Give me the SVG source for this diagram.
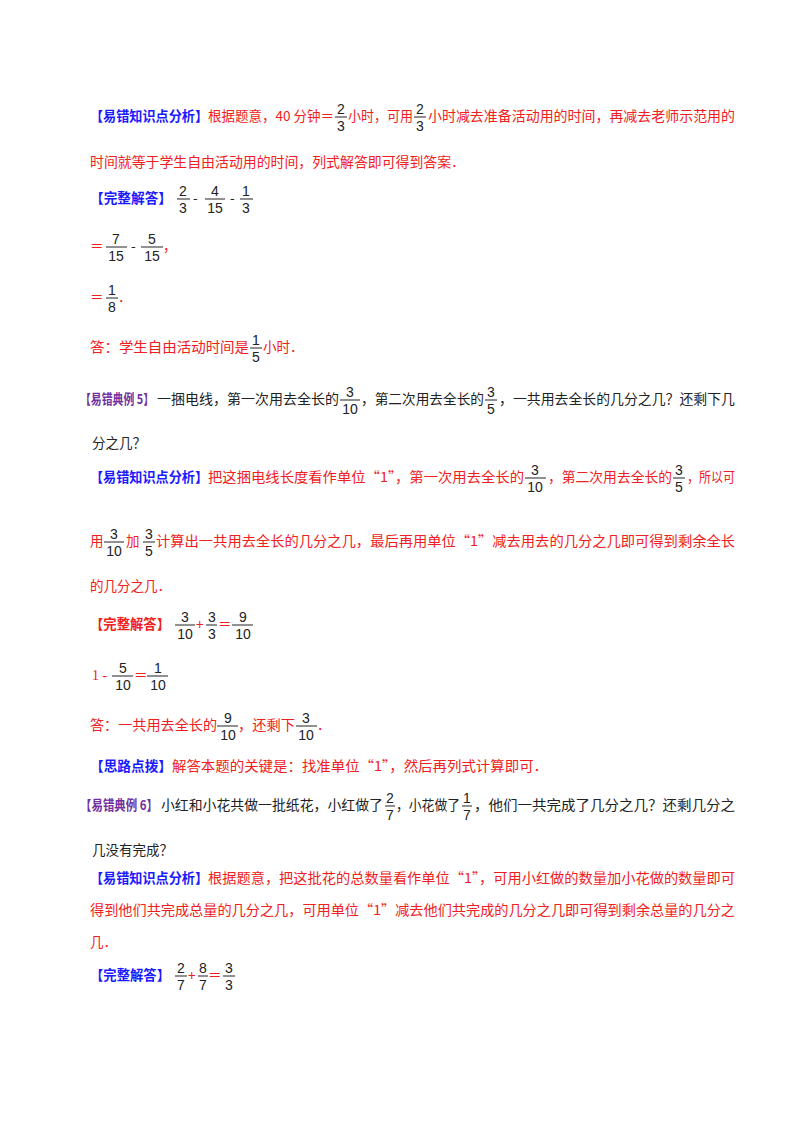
<svg xmlns="http://www.w3.org/2000/svg" width="800" height="1132" viewBox="0 0 800 1132">
<style>
text{font-family:"Noto Sans CJK SC","Liberation Serif",sans-serif;font-size:13.5px}
.r{fill:#f02020}.k{fill:#222}.b{fill:#1a1aff;font-weight:bold}.p{fill:#7030a0;font-weight:bold}.rb{fill:#f02020;font-weight:bold}
.n{font-family:"Liberation Sans",sans-serif;font-size:14px;text-anchor:middle;fill:#222}
.fl{stroke:#222;stroke-width:1}
</style>
<rect width="800" height="1132" fill="#fff"/>
<g id="p1">
<text class="b" x="90" y="121" textLength="118" lengthAdjust="spacingAndGlyphs">【易错知识点分析】</text>
<text class="r" x="208" y="121" textLength="126" lengthAdjust="spacingAndGlyphs">根据题意，40 分钟＝</text>
<text class="n" x="341" y="114">2</text><line class="fl" x1="335" y1="117" x2="347" y2="117"/><text class="n" x="341" y="131">3</text>
<text class="r" x="348" y="121" textLength="65" lengthAdjust="spacingAndGlyphs">小时，可用</text>
<text class="n" x="420" y="114">2</text><line class="fl" x1="414" y1="117" x2="426" y2="117"/><text class="n" x="420" y="131">3</text>
<text class="r" x="428" y="121" textLength="307" lengthAdjust="spacingAndGlyphs">小时减去准备活动用的时间，再减去老师示范用的</text>
<text class="r" x="90" y="167" textLength="375" lengthAdjust="spacingAndGlyphs">时间就等于学生自由活动用的时间，列式解答即可得到答案．</text>
</g>
<g id="a1">
<text class="b" x="90" y="203" textLength="82" lengthAdjust="spacingAndGlyphs">【完整解答】</text>
<text class="n" x="183" y="196">2</text><line class="fl" x1="177" y1="199" x2="190" y2="199"/><text class="n" x="183" y="213">3</text>
<text class="k" x="193" y="203">-</text>
<text class="n" x="215" y="196">4</text><line class="fl" x1="205" y1="199" x2="225" y2="199"/><text class="n" x="215" y="213">15</text>
<text class="k" x="230" y="203">-</text>
<text class="n" x="246" y="196">1</text><line class="fl" x1="240" y1="199" x2="253" y2="199"/><text class="n" x="246" y="213">3</text>
<text class="r" x="90" y="251">＝</text>
<text class="n" x="116" y="244">7</text><line class="fl" x1="106" y1="247" x2="127" y2="247"/><text class="n" x="116" y="261">15</text>
<text class="k" x="131" y="251">-</text>
<text class="n" x="152" y="244">5</text><line class="fl" x1="141" y1="247" x2="163" y2="247"/><text class="n" x="152" y="261">15</text>
<text class="r" x="163" y="251">，</text>
<text class="r" x="90" y="302">＝</text>
<text class="n" x="112" y="295">1</text><line class="fl" x1="106" y1="298" x2="118" y2="298"/><text class="n" x="112" y="312">8</text>
<text class="r" x="118" y="302">．</text>
<text class="r" x="90" y="352" textLength="159" lengthAdjust="spacingAndGlyphs">答：学生自由活动时间是</text>
<text class="n" x="256" y="345">1</text><line class="fl" x1="250" y1="348" x2="262" y2="348"/><text class="n" x="256" y="362">5</text>
<text class="r" x="263" y="352">小时．</text>
</g>
<g id="e5">
<text class="p" x="80" y="404" textLength="74" lengthAdjust="spacingAndGlyphs">【易错典例 5】</text>
<text class="k" x="157" y="404" textLength="182" lengthAdjust="spacingAndGlyphs">一捆电线，第一次用去全长的</text>
<text class="n" x="350" y="397">3</text><line class="fl" x1="340" y1="400" x2="360" y2="400"/><text class="n" x="350" y="414">10</text>
<text class="k" x="361" y="404" textLength="123" lengthAdjust="spacingAndGlyphs">，第二次用去全长的</text>
<text class="n" x="491" y="397">3</text><line class="fl" x1="485" y1="400" x2="497" y2="400"/><text class="n" x="491" y="414">5</text>
<text class="k" x="499" y="404" textLength="236" lengthAdjust="spacingAndGlyphs">，一共用去全长的几分之几？还剩下几</text>
<text class="k" x="92" y="448">分之几？</text>
<text class="b" x="90" y="482" textLength="118" lengthAdjust="spacingAndGlyphs">【易错知识点分析】</text>
<text class="r" x="208" y="482" textLength="316" lengthAdjust="spacingAndGlyphs">把这捆电线长度看作单位“1”，第一次用去全长的</text>
<text class="n" x="535" y="475">3</text><line class="fl" x1="525" y1="478" x2="546" y2="478"/><text class="n" x="535" y="492">10</text>
<text class="r" x="548" y="482" textLength="124" lengthAdjust="spacingAndGlyphs">，第二次用去全长的</text>
<text class="n" x="679" y="475">3</text><line class="fl" x1="673" y1="478" x2="685" y2="478"/><text class="n" x="679" y="492">5</text>
<text class="r" x="687" y="482" textLength="48" lengthAdjust="spacingAndGlyphs">，所以可</text>
<text class="r" x="90" y="546">用</text>
<text class="n" x="114" y="539">3</text><line class="fl" x1="104" y1="542" x2="124" y2="542"/><text class="n" x="114" y="556">10</text>
<text class="r" x="126" y="546">加</text>
<text class="n" x="149" y="539">3</text><line class="fl" x1="143" y1="542" x2="155" y2="542"/><text class="n" x="149" y="556">5</text>
<text class="r" x="156" y="546" textLength="579" lengthAdjust="spacingAndGlyphs">计算出一共用去全长的几分之几，最后再用单位“1”减去用去的几分之几即可得到剩余全长</text>
<text class="r" x="90" y="591">的几分之几．</text>
</g>
<g id="a5">
<text class="rb" x="90" y="629" textLength="80" lengthAdjust="spacingAndGlyphs">【完整解答】</text>
<text class="n" x="185" y="622">3</text><line class="fl" x1="175" y1="625" x2="195" y2="625"/><text class="n" x="185" y="639">10</text>
<text class="r" x="196" y="629">+</text>
<text class="n" x="212" y="622">3</text><line class="fl" x1="206" y1="625" x2="217" y2="625"/><text class="n" x="212" y="639">3</text>
<text class="r" x="218" y="629">＝</text>
<text class="n" x="243" y="622">9</text><line class="fl" x1="232" y1="625" x2="253" y2="625"/><text class="n" x="243" y="639">10</text>
<text class="r" x="92" y="680" style="font-family:'Liberation Serif',serif;font-size:14px">1 -</text>
<text class="n" x="123" y="673">5</text><line class="fl" x1="112" y1="676" x2="133" y2="676"/><text class="n" x="123" y="690">10</text>
<text class="r" x="134" y="680">＝</text>
<text class="n" x="158" y="673">1</text><line class="fl" x1="147" y1="676" x2="168" y2="676"/><text class="n" x="158" y="690">10</text>
<text class="r" x="90" y="730" textLength="127" lengthAdjust="spacingAndGlyphs">答：一共用去全长的</text>
<text class="n" x="228" y="723">9</text><line class="fl" x1="217" y1="726" x2="238" y2="726"/><text class="n" x="228" y="740">10</text>
<text class="r" x="238" y="730" textLength="57" lengthAdjust="spacingAndGlyphs">，还剩下</text>
<text class="n" x="306" y="723">3</text><line class="fl" x1="296" y1="726" x2="317" y2="726"/><text class="n" x="306" y="740">10</text>
<text class="r" x="317" y="730">．</text>
<text class="b" x="90" y="771" textLength="82" lengthAdjust="spacingAndGlyphs">【思路点拨】</text>
<text class="r" x="172" y="771" textLength="376" lengthAdjust="spacingAndGlyphs">解答本题的关键是：找准单位“1”，然后再列式计算即可．</text>
</g>
<g id="e6">
<text class="p" x="80" y="810" textLength="78" lengthAdjust="spacingAndGlyphs">【易错典例 6】</text>
<text class="k" x="161" y="810" textLength="222" lengthAdjust="spacingAndGlyphs">小红和小花共做一批纸花，小红做了</text>
<text class="n" x="390" y="803">2</text><line class="fl" x1="385" y1="806" x2="395" y2="806"/><text class="n" x="390" y="820">7</text>
<text class="k" x="396" y="810" textLength="64" lengthAdjust="spacingAndGlyphs">，小花做了</text>
<text class="n" x="467" y="803">1</text><line class="fl" x1="462" y1="806" x2="472" y2="806"/><text class="n" x="467" y="820">7</text>
<text class="k" x="474" y="810" textLength="261" lengthAdjust="spacingAndGlyphs">，他们一共完成了几分之几？还剩几分之</text>
<text class="k" x="92" y="855">几没有完成？</text>
<text class="b" x="90" y="883" textLength="118" lengthAdjust="spacingAndGlyphs">【易错知识点分析】</text>
<text class="r" x="208" y="883" textLength="527" lengthAdjust="spacingAndGlyphs">根据题意，把这批花的总数量看作单位“1”，可用小红做的数量加小花做的数量即可</text>
<text class="r" x="90" y="915" textLength="645" lengthAdjust="spacingAndGlyphs">得到他们共完成总量的几分之几，可用单位“1”减去他们共完成的几分之几即可得到剩余总量的几分之</text>
<text class="r" x="90" y="947">几．</text>
</g>
<g id="a6">
<text class="b" x="90" y="980" textLength="80" lengthAdjust="spacingAndGlyphs">【完整解答】</text>
<text class="n" x="181" y="973">2</text><line class="fl" x1="175" y1="976" x2="187" y2="976"/><text class="n" x="181" y="990">7</text>
<text class="r" x="188" y="980">+</text>
<text class="n" x="203" y="973">8</text><line class="fl" x1="198" y1="976" x2="208" y2="976"/><text class="n" x="203" y="990">7</text>
<text class="r" x="208" y="980">＝</text>
<text class="n" x="229" y="973">3</text><line class="fl" x1="223" y1="976" x2="235" y2="976"/><text class="n" x="229" y="990">3</text>
</g>
<g id="connectors"/>
</svg>
